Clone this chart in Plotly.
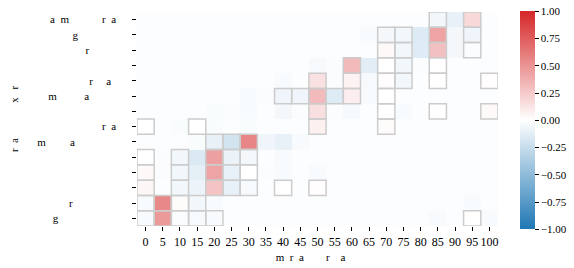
import plotly.graph_objects as go

# ---- data ----
x_vals = [0, 5, 10, 15, 20, 25, 30, 35, 40, 45, 50, 55, 60, 65, 70, 75, 80, 85, 90, 95, 100]
x_ticktext = [str(v) for v in x_vals]

E, N, T, Q, Z = "\u2003", "\u2002", "\u2009", "\u2005", "\u200b"
y_labels = [
    "a" + N + "m" + E + E + E + "r" + N + "a" + E + Q,
    "g" + E + E + E + E + N + T,
    "r" + E + E + E + N + T,
    "",
    "r" + E + T + "a" + E + N + T,
    "m" + E + E + N + "a" + E + E + E + N + T,
    "",
    "r" + N + "a" + E + Q,
    "m" + E + E + T + "a" + E + E + E + E + E,
    "",
    "",
    "",
    "r" + E + E + E + E + E + T,
    "g" + E + E + E + E + E + E + N,
]
x_title = "m" + N + "r" + N + "a" + E + E + "r" + E + "a" + E + Q + Z
y_title = "r" + N + "a" + E + E + E + T + "x" + N + T + "r" + N + T

z = [
    [-.015, -.015, -.015, -.015, -.015, -.015, -.015, -.015, -.015, -.015, -.015, -.015, -.015, -.015, -.015, -.015, -.015, -.06, -.10, .18, -.015],
    [-.015, -.015, -.015, -.015, -.015, -.015, -.015, -.015, -.015, -.015, -.015, -.015, -.015, -.03, -.05, -.06, -.15, .42, -.05, -.07, -.015],
    [-.015, -.015, -.015, -.015, -.015, -.015, -.015, -.015, -.015, -.015, -.015, -.015, -.015, -.015, .03, -.06, -.14, .29, -.05, -.02, -.015],
    [-.015, -.015, -.015, -.015, -.015, -.015, -.015, -.015, -.015, -.015, -.04, -.02, .32, -.13, .0, -.06, -.02, .0, -.015, -.015, -.015],
    [-.015, -.015, -.015, -.015, -.015, -.015, -.015, -.015, -.03, -.015, .14, -.02, .06, -.04, .01, -.06, -.015, .0, -.015, -.015, .01],
    [-.015, -.015, -.015, -.015, -.015, -.015, -.03, -.02, -.07, -.07, .32, -.15, .08, -.03, .0, -.015, -.015, -.015, -.015, -.015, -.015],
    [-.015, -.015, -.015, -.015, -.025, -.02, -.03, -.015, -.05, -.02, .15, -.02, -.04, -.015, .0, -.03, -.015, .0, -.015, -.015, .03],
    [.0, -.015, -.025, .0, -.025, -.015, -.025, -.015, -.015, -.015, .07, -.015, -.015, -.015, .02, -.015, -.015, -.015, -.015, -.015, -.015],
    [-.015, -.015, -.015, -.025, -.10, -.20, .56, -.07, -.10, -.03, -.015, -.015, -.015, -.015, -.015, -.015, -.015, -.015, -.015, -.015, -.015],
    [.0, -.02, -.06, -.16, .44, -.09, -.05, -.015, -.03, -.015, -.015, -.015, -.015, -.015, -.015, -.015, -.015, -.015, -.015, -.015, -.015],
    [.03, -.02, -.06, -.12, .42, -.10, .0, -.02, -.03, -.015, -.03, -.015, -.015, -.015, -.015, -.015, -.015, -.015, -.015, -.015, -.015],
    [.04, -.015, -.06, -.08, .28, -.10, -.04, -.015, .0, -.015, .01, -.015, -.015, -.015, -.015, -.015, -.015, -.015, -.015, -.015, -.015],
    [-.03, .55, .02, -.06, -.03, -.015, -.015, -.015, -.015, -.015, -.015, -.015, -.015, -.015, -.015, -.015, -.015, -.015, -.015, -.03, -.015],
    [-.03, .47, -.02, -.04, -.03, -.015, -.015, -.015, -.015, -.015, -.015, -.015, -.015, -.015, -.015, -.015, -.015, -.03, -.015, .0, -.03],
]

# highlighted cells: row index -> column indices
bordered = {
    0: [17, 19],
    1: [14, 15, 17, 19],
    2: [14, 15, 17, 19],
    3: [12, 14, 15, 17],
    4: [10, 12, 14, 15, 17, 20],
    5: [8, 9, 10, 11, 12, 14],
    6: [10, 14, 17, 20],
    7: [0, 3, 10, 14],
    8: [4, 5, 6],
    9: [0, 2, 4, 5, 6],
    10: [0, 2, 4, 5, 6],
    11: [0, 2, 4, 5, 6, 8, 10],
    12: [0, 1, 2, 3],
    13: [0, 1, 2, 3, 4, 19],
}

cbar_vals = [1.0, 0.75, 0.5, 0.25, 0.0, -0.25, -0.5, -0.75, -1.0]
cbar_text = ["1.00", "0.75", "0.50", "0.25", "0.00", "\u22120.25", "\u22120.50", "\u22120.75", "\u22121.00"]

FONT = "Liberation Serif"
rows = list(range(len(y_labels)))
step = x_vals[1] - x_vals[0]

fig = go.Figure(go.Heatmap(
    z=z, x=x_vals, y=rows,
    colorscale=[[0, "#1f77b4"], [0.5, "#ffffff"], [1, "#d62728"]],
    zmin=-1, zmax=1, hoverinfo="skip",
    colorbar=dict(
        thickness=15, len=218, lenmode="pixels",
        x=1.061, xanchor="left", y=0.494, yanchor="middle",
        xpad=0, ypad=0, outlinewidth=0,
        tickvals=cbar_vals, ticktext=cbar_text,
        ticks="outside", ticklen=4, tickwidth=1, tickcolor="black",
        ticklabeloverflow="allow",
        tickfont=dict(family=FONT, size=11, color="black"),
    ),
))

shapes = []
for r, cols in bordered.items():
    for c in cols:
        shapes.append(dict(
            type="rect", xref="x", yref="y",
            x0=x_vals[c] - step / 2, x1=x_vals[c] + step / 2,
            y0=rows[r] - 0.5, y1=rows[r] + 0.5,
            line=dict(color="#cccccc", width=1.5), fillcolor="rgba(0,0,0,0)",
            layer="above",
        ))

fig.update_layout(
    width=574, height=268,
    margin=dict(l=137, r=76, t=12, b=42, autoexpand=False),
    paper_bgcolor="white", plot_bgcolor="white",
    font=dict(family=FONT, size=11, color="black"),
    shapes=shapes,
    xaxis=dict(
        tickvals=x_vals, ticktext=x_ticktext, tickangle=0, automargin=False,
        range=[x_vals[0] - step / 2, x_vals[-1] + step / 2],
        ticks="outside", ticklen=4, tickwidth=1, tickcolor="black",
        ticklabelstandoff=1,
        showgrid=False, zeroline=False, showline=False,
        tickfont=dict(family=FONT, size=12),
        title=dict(text=x_title, font=dict(family=FONT, size=11), standoff=4),
    ),
    yaxis=dict(
        tickvals=rows, ticktext=y_labels, automargin=False,
        range=[rows[-1] + 0.5, rows[0] - 0.5],
        ticks="outside", ticklen=4, tickwidth=1, tickcolor="black",
        showgrid=False, zeroline=False, showline=False,
        tickfont=dict(family=FONT, size=11),
        title=dict(text=y_title, font=dict(family=FONT, size=11), standoff=16),
    ),
)

fig.write_html(
    "out.html",
    config={"displayModeBar": False},
    post_script="document.body.style.margin='0';document.body.style.padding='0';",
)
